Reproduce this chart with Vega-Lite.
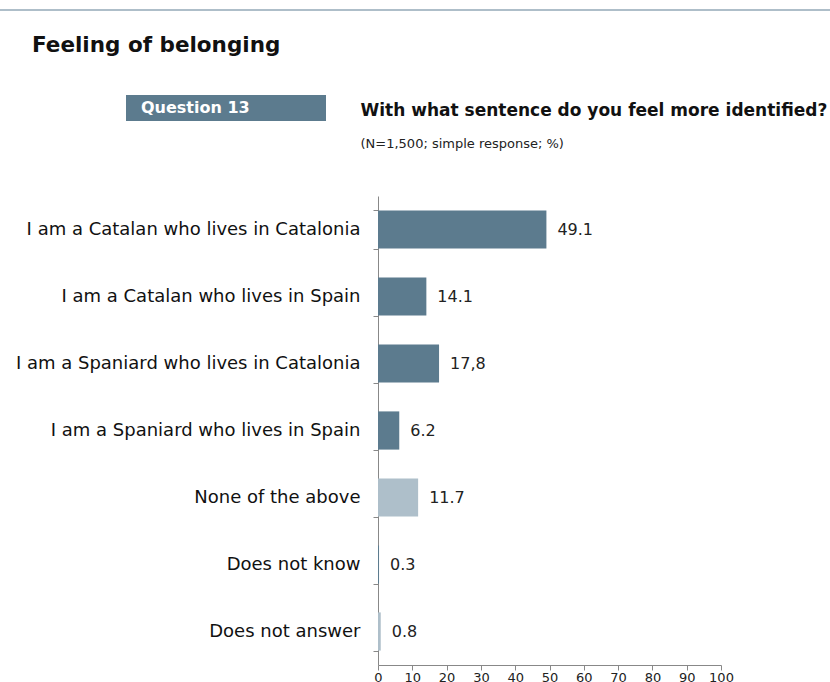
{
  "$schema": "https://vega.github.io/schema/vega-lite/v6.json",
  "width": 343,
  "height": 469,
  "autosize": {"type": "none"},
  "padding": {"left": 378, "top": 196, "right": 109, "bottom": 17},
  "background": "white",
  "config": {
    "font": "DejaVu Sans",
    "view": {"stroke": null},
    "axisX": {
      "tickCount": 10,
      "grid": false,
      "tickSize": 5,
      "tickColor": "#888888",
      "domainColor": "#888888",
      "labelFontSize": 13,
      "labelColor": "#222222",
      "labelPadding": 1,
      "labelFlush": false,
      "labelOverlap": false,
      "labelFont": "DejaVu Sans"
    }
  },
  "title": {
    "text": "Feeling of belonging",
    "anchor": "start",
    "frame": "group",
    "dx": -346,
    "offset": -461,
    "fontSize": 21.5,
    "fontWeight": "bold",
    "color": "#111111",
    "font": "DejaVu Sans"
  },
  "datasets": {
    "answers": [
      {"answer": "I am a Catalan who lives in Catalonia", "value": 49.1, "label": "49.1", "tone": "main"},
      {"answer": "I am a Catalan who lives in Spain", "value": 14.1, "label": "14.1", "tone": "main"},
      {"answer": "I am a Spaniard who lives in Catalonia", "value": 17.8, "label": "17,8", "tone": "main"},
      {"answer": "I am a Spaniard who lives in Spain", "value": 6.2, "label": "6.2", "tone": "main"},
      {"answer": "None of the above", "value": 11.7, "label": "11.7", "tone": "other"},
      {"answer": "Does not know", "value": 0.3, "label": "0.3", "tone": "main"},
      {"answer": "Does not answer", "value": 0.8, "label": "0.8", "tone": "other"}
    ],
    "panel": [{"panel": "Question 13"}],
    "rule": [{"rule": " "}]
  },
  "layer": [
    {
      "data": {"name": "answers"},
      "mark": {"type": "bar"},
      "encoding": {
        "y": {
          "field": "answer",
          "type": "nominal",
          "sort": null,
          "scale": {"paddingInner": 0.43, "paddingOuter": 0.215},
          "axis": {
            "title": "(N=1,500; simple response; %)",
            "titleAngle": 0,
            "titleX": -18,
            "titleY": -49,
            "titleAlign": "left",
            "titleBaseline": "alphabetic",
            "titleFontSize": 13,
            "titleFontWeight": "normal",
            "titleColor": "#222222",
            "titleFont": "DejaVu Sans",
            "tickBand": "extent",
            "tickSize": 5,
            "tickColor": "#888888",
            "domainColor": "#888888",
            "labelPadding": 13,
            "labelFontSize": 18,
            "labelColor": "#111111",
            "labelFont": "DejaVu Sans",
            "labelLimit": 0
          }
        },
        "x": {
          "field": "value",
          "type": "quantitative",
          "scale": {"domain": [0, 100], "nice": false},
          "axis": {
            "tickCount": 10,
            "labelOverlap": false,
            "title": "With what sentence do you feel more identified?",
            "titleX": -18,
            "titleY": -550,
            "titleAlign": "left",
            "titleAnchor": "start",
            "titleBaseline": "alphabetic",
            "titleFontSize": 17,
            "titleFontWeight": "bold",
            "titleColor": "#111111",
            "titleFont": "DejaVu Sans"
          }
        },
        "color": {
          "field": "tone",
          "type": "nominal",
          "scale": {"domain": ["main", "other"], "range": ["#5c7b8e", "#aebfca"]},
          "legend": null
        }
      }
    },
    {
      "data": {"name": "answers"},
      "mark": {"type": "text", "align": "left", "baseline": "middle", "dx": 11, "fontSize": 16, "color": "#222222", "font": "DejaVu Sans"},
      "encoding": {
        "y": {"field": "answer", "type": "nominal", "sort": null},
        "x": {"field": "value", "type": "quantitative"},
        "text": {"field": "label"}
      }
    },
    {
      "data": {"name": "panel"},
      "mark": {"type": "point", "opacity": 0, "filled": true, "color": "#5c7b8e"},
      "encoding": {
        "shape": {
          "field": "panel",
          "type": "nominal",
          "scale": {"range": ["M-1,-0.13H1V0.13H-1Z"]},
          "legend": {
            "orient": "none",
            "legendX": -252,
            "legendY": -188,
            "padding": 0,
            "title": null,
            "symbolSize": 40000,
            "symbolStrokeWidth": 0,
            "symbolOpacity": 1,
            "labelColor": "white",
            "labelFont": "DejaVu Sans",
            "labelFontSize": 16,
            "labelFontWeight": "bold",
            "labelOffset": -185,
            "labelLimit": 0
          }
        }
      }
    },
    {
      "data": {"name": "rule"},
      "mark": {"type": "point", "filled": true, "color": "#93a9b7", "shape": "M-1,-0.002H1V0.002H-1Z"},
      "encoding": {
        "opacity": {
          "field": "rule",
          "type": "nominal",
          "scale": {"range": [0]},
          "legend": {
            "orient": "none",
            "legendX": -378,
            "legendY": -601,
            "padding": 0,
            "title": null,
            "symbolType": "M-1,-0.002H1V0.002H-1Z",
            "symbolSize": 688900,
            "symbolStrokeWidth": 0,
            "symbolOpacity": 1,
            "symbolFillColor": "#93a9b7",
            "labelFontSize": 1,
            "labelColor": "white",
            "labelOffset": 0,
            "labelLimit": 0,
            "encode": {"symbols": {"update": {"opacity": {"value": 1}}}}
          }
        }
      }
    }
  ],
  "resolve": {"scale": {"opacity": "independent", "shape": "independent"}}
}
